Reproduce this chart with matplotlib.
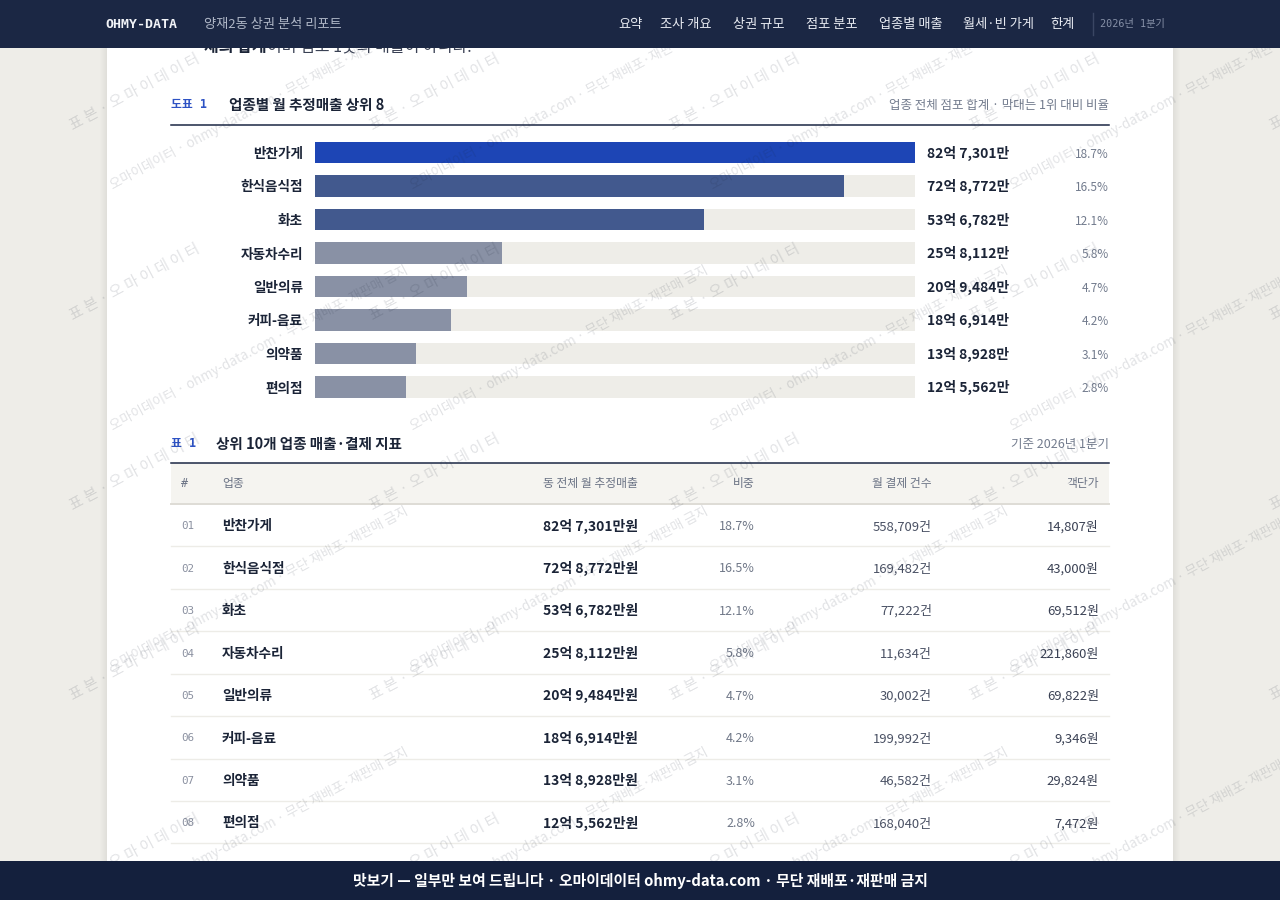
import matplotlib
matplotlib.use('Agg')
import matplotlib.pyplot as plt
from matplotlib.patches import Rectangle
from matplotlib.transforms import blended_transform_factory as btf, offset_copy

KR = ['Noto Sans CJK KR', 'DejaVu Sans']
MONO = ['DejaVu Sans Mono', 'Noto Sans CJK KR']
plt.rcParams['font.family'] = KR

# ---------------- data ----------------
categories = ['반찬가게', '한식음식점', '화초', '자동차수리', '일반의류', '커피-음료', '의약품', '편의점']
sales_man = [827301, 728772, 536782, 258112, 209484, 186914, 138928, 125562]   # 단위: 만원
share_pct = [18.7, 16.5, 12.1, 5.8, 4.7, 4.2, 3.1, 2.8]
pay_counts = [558709, 169482, 77222, 11634, 30002, 199992, 46582, 168040]
avg_price = [14807, 43000, 69512, 221860, 69822, 9346, 29824, 7472]
nav_items = ['요약', '조사 개요', '상권 규모', '점포 분포', '업종별 매출', '월세·빈 가게', '한계']
table_headers = ['#', '업종', '동 전체 월 추정매출', '비중', '월 결제 건수', '객단가']

# ---------------- style ----------------
W, H = 1280, 900
PAGE = '#EEEDE8'
NAVY = '#1B2744'
FOOT = '#14203D'
DARK = '#1B2437'
GRAYTXT = '#727B8D'
ACCENT = '#2D52C4'
BAR1, BAR2, BAR3 = '#1D45B5', '#42598E', '#8991A5'
TRACK = '#EEEDE8'
MID = 0.38   # visual centre of glyphs above baseline, in em


def eok(v):
    return f"{v // 10000}억 {v % 10000:,}만"


def txt(ax, x, yc, s, size, **kw):
    """place text so its glyphs are visually centred on pixel row yc"""
    return ax.text(x, yc + MID * size / 0.72, s, fontsize=size, va='baseline', **kw)


fig = plt.figure(figsize=(12.8, 9), dpi=100)
fig.patch.set_facecolor(PAGE)

bg = fig.add_axes([0, 0, 1, 1], zorder=0)
bg.set_xlim(0, W); bg.set_ylim(H, 0); bg.axis('off')

# card + soft shadow
for k in range(1, 8):
    bg.add_patch(Rectangle((107 - k, 0), 1066 + 2 * k, H, fc='black', alpha=0.006, lw=0))
bg.add_patch(Rectangle((107, 0), 1066, H, fc='white', lw=0))

# partially hidden paragraph line under header
t1 = bg.text(204, 52, '체의 합계', fontsize=11.5, fontweight='bold', color=DARK, va='baseline')
bg.annotate('이며 점포 1곳의 매출이 아니다.', xy=(1, 0), xycoords=t1, va='bottom',
            fontsize=11.5, color='#3A4154')

# ---- chart section title ----
txt(bg, 171, 104, '도표 1', 8.5, family=MONO, color=ACCENT, fontweight='bold')
txt(bg, 229, 104, '업종별 월 추정매출 상위 8', 10.5, fontweight='bold', color=DARK)
txt(bg, 1109, 104, '업종 전체 점포 합계 · 막대는 1위 대비 비율', 9, color=GRAYTXT, ha='right')
bg.plot([171, 1109], [124.5, 124.5], color=NAVY, lw=1.1)

# ---- bar chart ----
n = len(categories)
row = 33.5
top_c = 152.5
bx = fig.add_axes([315 / W, 1 - (top_c + row * (n - 0.5)) / H, 600 / W, row * n / H], zorder=2)
bx.patch.set_alpha(0)
vmax = max(sales_man)
bx.barh(range(n), [vmax] * n, height=0.63, color=TRACK, lw=0, zorder=1)
colors = [BAR1 if i == 0 else (BAR2 if i < 3 else BAR3) for i in range(n)]
bx.barh(range(n), sales_man, height=0.63, color=colors, lw=0, zorder=2)
bx.set_xlim(0, vmax)
bx.set_ylim(n - 0.5, -0.5)
for s in bx.spines.values():
    s.set_visible(False)
bx.set_xticks([])
bx.set_yticks(range(n), labels=categories)
bx.tick_params(axis='y', length=0, pad=12 * 0.72, labelsize=9.8, labelcolor=DARK)
for lab in bx.get_yticklabels():
    lab.set_fontweight('bold')
tr = btf(bx.transAxes, bx.transData)
tr_v = offset_copy(tr, fig=fig, y=-MID * 10, units='points')
tr_p = offset_copy(tr, fig=fig, y=-MID * 8.5 - 0.6, units='points')
for i, (v, p) in enumerate(zip(sales_man, share_pct)):
    bx.text(1 + 12 / 600, i, eok(v), transform=tr_v, fontsize=10, fontweight='bold',
            color=DARK, va='baseline', ha='left')
    bx.text((1109 - 315) / 600, i, f"{p:.1f}%", transform=tr_p, fontsize=8.5,
            color=GRAYTXT, va='baseline', ha='right')

# ---- table ----
txt(bg, 171, 443, '표 1', 8.5, family=MONO, color=ACCENT, fontweight='bold')
txt(bg, 216, 443, '상위 10개 업종 매출·결제 지표', 10.5, fontweight='bold', color=DARK)
txt(bg, 1109, 443, '기준 2026년 1분기', 9, color=GRAYTXT, ha='right')
bg.plot([171, 1109], [462.5, 462.5], color=NAVY, lw=1.1)

bg.add_patch(Rectangle((171, 463), 938, 40, fc='#F5F4F0', lw=0))
bg.plot([171, 1109], [503.5, 503.5], color='#DEDCD5', lw=1.4)
col_x = [181, 222, 638, 755, 932, 1099]
col_ha = ['left', 'left', 'right', 'right', 'right', 'right']
for x, ha, h in zip(col_x, col_ha, table_headers):
    txt(bg, x, 483, h, 8.5, color='#6B7385', ha=ha, family=MONO if h == '#' else KR)

rh = 42.43
for i in range(n):
    yc = 504 + rh * (i + 0.5)
    txt(bg, col_x[0], yc, f"{i + 1:02d}", 7.8, family=MONO, color='#8A90A0')
    txt(bg, col_x[1], yc, categories[i], 9.8, fontweight='bold', color=DARK)
    txt(bg, col_x[2], yc, eok(sales_man[i]) + '원', 10, fontweight='bold', color=DARK, ha='right')
    txt(bg, col_x[3], yc, f"{share_pct[i]:.1f}%", 9, color='#707888', ha='right')
    txt(bg, col_x[4], yc, f"{pay_counts[i]:,}건", 9.4, color='#4A5164', ha='right')
    txt(bg, col_x[5], yc, f"{avg_price[i]:,}원", 9.4, color='#3A4154', ha='right')
    yl = 504 + rh * (i + 1)
    bg.plot([171, 1109], [yl, yl], color='#EDECE7', lw=1)

# ---------------- overlay: watermark, header, footer ----------------
top = fig.add_axes([0, 0, 1, 1], zorder=10)
top.set_xlim(0, W); top.set_ylim(H, 0); top.axis('off')
top.patch.set_alpha(0)

WM_COLOR = '#1B2437'
wmA = '표 본 · 오 마 이 데 이 터'
wmB = '오마이데이터 · ohmy-data.com · 무단 재배포·재판매 금지'
for kx in range(0, 5):
    for ky in range(0, 5):
        top.text(73 + 300 * kx, 130 + 190 * ky, wmA, fontsize=10.8, color=WM_COLOR, alpha=0.13,
                 rotation=28, rotation_mode='anchor', ha='left', va='baseline', zorder=1)
    if kx < 4:
        for ky in range(0, 4):
            top.text(113 + 300 * kx, 189 + 241 * ky, wmB, fontsize=9.6, color=WM_COLOR, alpha=0.13,
                     rotation=28, rotation_mode='anchor', ha='left', va='baseline', zorder=1)

# header
top.add_patch(Rectangle((0, 0), W, 48, fc=NAVY, lw=0, zorder=5))
txt(top, 105, 23, 'OHMY-DATA', 9.5, family=MONO, fontweight='bold', color='#F2F4F8', zorder=6)
txt(top, 204, 23, '양재2동 상권 분석 리포트', 9.5, color='#AEB6C6', zorder=6)
nav_x = [618, 660, 733, 806, 879, 963, 1050]
for x, t in zip(nav_x, nav_items):
    txt(top, x, 23, t, 9.5, color='#E8EBF2', zorder=6)
top.plot([1093, 1093], [13, 35], color='#3A4663', lw=1, zorder=6)
txt(top, 1100, 23, '2026년 1분기', 7.3, family=MONO, color='#8791A8', zorder=6)

# footer
top.add_patch(Rectangle((0, 861), W, 39, fc=FOOT, lw=0, zorder=5))
txt(top, 640, 880.5, '맛보기 — 일부만 보여 드립니다 · 오마이데이터 ohmy-data.com · 무단 재배포·재판매 금지',
    10.7, fontweight='bold', color='white', ha='center', zorder=6)

fig.savefig('out.png', dpi=100, facecolor=fig.get_facecolor())
